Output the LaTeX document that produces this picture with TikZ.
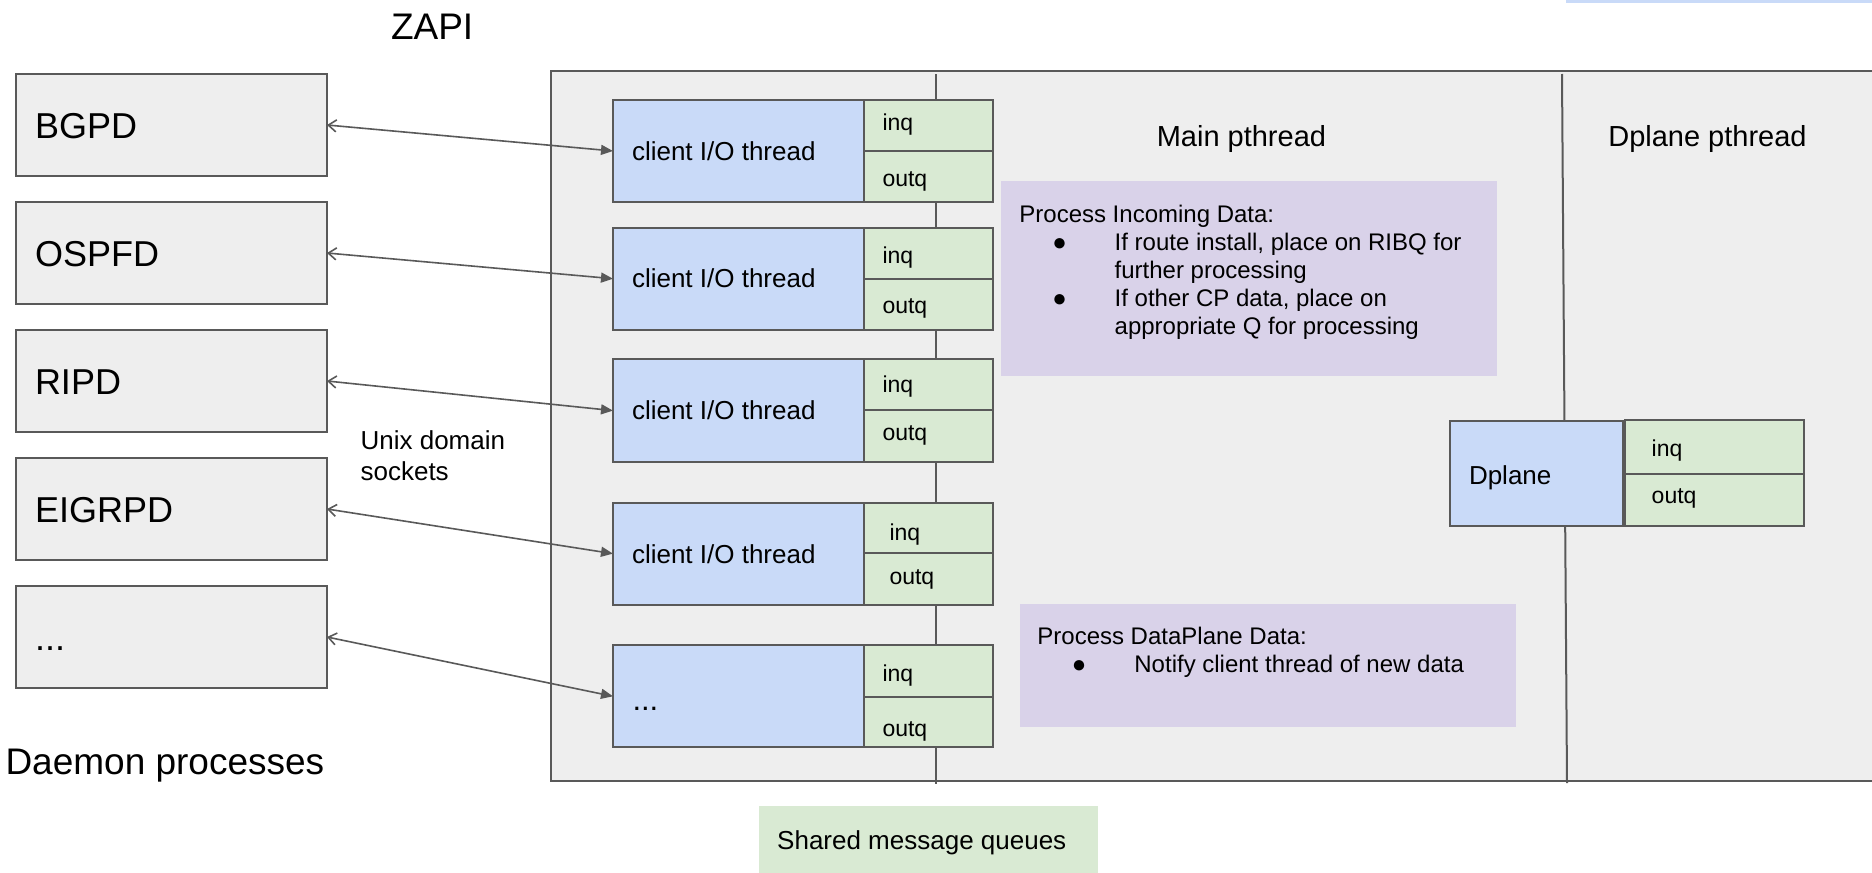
\documentclass[tikz,border=0pt]{standalone}
\usepackage{fontspec}
\setmainfont{Liberation Sans}
\usetikzlibrary{arrows.meta}
\definecolor{bord}{HTML}{595959}
\definecolor{gfill}{HTML}{EEEEEE}
\definecolor{bfill}{HTML}{C9DAF8}
\definecolor{qfill}{HTML}{D9EAD3}
\definecolor{pfill}{HTML}{D9D2E9}
\begin{document}
\begin{tikzpicture}[x=1pt,y=-1pt,
  box/.style={draw=bord, line width=2pt, anchor=north west, inner sep=0pt, outer sep=0pt},
  dbox/.style={box, fill=gfill, minimum width=311.2pt, minimum height=102pt},
  cbox/.style={box, fill=bfill, minimum width=251pt},
  qbox/.style={box, fill=qfill, minimum width=129pt},
  pbox/.style={anchor=north west, fill=pfill, inner sep=0pt, outer sep=0pt},
  txt/.style={anchor=base west, inner sep=0pt, outer sep=0pt, text=black},
  big/.style={txt, font=\fontsize{36}{40}\selectfont},
  mid/.style={txt, font=\fontsize{26}{30}\selectfont},
  qt/.style={txt, font=\fontsize{23}{27}\selectfont},
  ptx/.style={txt, font=\fontsize{24}{28}\selectfont},
  conn/.style={draw=bord, line width=1.6pt,
    {Straight Barb[length=8pt,width=12pt,line width=1.6pt]}-{Triangle[length=12pt,width=10pt]}},
  divl/.style={draw=bord, line width=2pt}
]
\useasboundingbox (0,0) rectangle (1872,873);

% top-right partial bar
\fill[bfill] (1566,0) rectangle (1872,2.5);

% container
\node[box, fill=gfill, minimum width=1340pt, minimum height=710pt] (zebra) at (551,71) {};

% vertical lines
\coordinate (qtop) at (935.5,74);
\coordinate (qbot) at (935.5,784);
\coordinate (dtop) at (1562,74);
\coordinate (dbot) at (1567,783);
\draw[divl] (qtop) -- (qbot);
\draw[divl] (dtop) -- (dbot);

% daemon boxes
\node[dbox] (bgpd) at (15.8,74) {};
\node[dbox] (ospfd) at (15.8,202) {};
\node[dbox] (ripd) at (15.8,330) {};
\node[dbox] (eigrpd) at (15.8,458) {};
\node[dbox] (more) at (15.8,586) {};
\node[big] (tbgpd) at (35,138.3) {BGPD};
\node[big] (tospfd) at (35,266.3) {OSPFD};
\node[big] (tripd) at (35,394.3) {RIPD};
\node[big] (teigrpd) at (35,522.3) {EIGRPD};
\node[big] (tmore) at (35,650.5) {...};

% client boxes
\node[cbox, minimum height=102pt] (c1) at (613,100) {};
\node[qbox, minimum height=50.7pt] (c1i) at (864,100) {};
\node[qbox, minimum height=51.3pt] (c1o) at (864,150.7) {};
\node[cbox, minimum height=102pt] (c2) at (613,227.7) {};
\node[qbox, minimum height=51.3pt] (c2i) at (864,227.7) {};
\node[qbox, minimum height=50.7pt] (c2o) at (864,279) {};
\node[cbox, minimum height=102.6pt] (c3) at (613,359.3) {};
\node[qbox, minimum height=50.7pt] (c3i) at (864,359.3) {};
\node[qbox, minimum height=51.9pt] (c3o) at (864,410) {};
\node[cbox, minimum height=101.7pt] (c4) at (613,502.8) {};
\node[qbox, minimum height=50.5pt] (c4i) at (864,502.8) {};
\node[qbox, minimum height=51.2pt] (c4o) at (864,553.3) {};
\node[cbox, minimum height=102pt] (c5) at (613,645.3) {};
\node[qbox, minimum height=51.4pt] (c5i) at (864,645.3) {};
\node[qbox, minimum height=50.6pt] (c5o) at (864,696.7) {};

\node[mid] (tc1) at (632,160) {client I/O thread};
\node[mid] (tc2) at (632,287.7) {client I/O thread};
\node[mid] (tc3) at (632,419.6) {client I/O thread};
\node[mid] (tc4) at (632,563.3) {client I/O thread};
\node[txt, font=\fontsize{31}{34}\selectfont] (tc5) at (632.5,710) {...};

\node[qt] (tc1i) at (882.5,130.7) {inq};
\node[qt] (tc1o) at (882.5,186.7) {outq};
\node[qt] (tc2i) at (882.5,263) {inq};
\node[qt] (tc2o) at (882.5,313) {outq};
\node[qt] (tc3i) at (882.5,392) {inq};
\node[qt] (tc3o) at (882.5,440) {outq};
\node[qt] (tc4i) at (889.5,540) {inq};
\node[qt] (tc4o) at (889.5,584) {outq};
\node[qt] (tc5i) at (882.5,681.7) {inq};
\node[qt] (tc5o) at (882.5,736) {outq};

% connectors
\draw[conn] (bgpd.east) -- (c1.west);
\draw[conn] (ospfd.east) -- (c2.west);
\draw[conn] (ripd.east) -- (c3.west);
\draw[conn] (eigrpd.east) -- (c4.west);
\draw[conn] (more.east) -- (c5.west);

% dplane
\node[box, fill=bfill, minimum width=172.7pt, minimum height=104.6pt] (dp) at (1450,421.4) {};
\node[qbox, minimum width=178.4pt, minimum height=53.2pt] (dpi) at (1625.3,420.4) {};
\node[qbox, minimum width=178.4pt, minimum height=52.4pt] (dpo) at (1625.3,473.6) {};
\node[mid] (tdp) at (1469,484) {Dplane};
\node[qt] (tdpi) at (1651.7,456.4) {inq};
\node[qt] (tdpo) at (1651.7,503.6) {outq};

% purple boxes
\node[pbox, minimum width=495.6pt, minimum height=194.7pt] (p1) at (1001,181) {};
\node[ptx] (p1a) at (1019.4,222.3) {Process Incoming Data:};
\node[ptx, anchor=base] (p1b1) at (1059.6,250.7) {●};
\node[ptx] (p1b) at (1114.7,250.7) {If route install, place on RIBQ for};
\node[ptx] (p1c) at (1114.7,278.3) {further processing};
\node[ptx, anchor=base] (p1b2) at (1059.6,306.7) {●};
\node[ptx] (p1d) at (1114.7,306.7) {If other CP data, place on};
\node[ptx] (p1e) at (1114.7,334) {appropriate Q for processing};

\node[pbox, minimum width=495.5pt, minimum height=122.7pt] (p2) at (1020,604) {};
\node[ptx] (p2a) at (1037.4,644.3) {Process DataPlane Data:};
\node[ptx, anchor=base] (p2b1) at (1079,672) {●};
\node[ptx] (p2b) at (1134.4,672) {Notify client thread of new data};

% titles
\node[txt, font=\fontsize{29}{33}\selectfont] (tmain) at (1156.8,146) {Main pthread};
\node[txt, font=\fontsize{29}{33}\selectfont] (tdpt) at (1608.3,146.4) {Dplane pthread};
\node[txt, font=\fontsize{37}{41}\selectfont] (tzapi) at (391,39.3) {ZAPI};
\node[mid] (tunix1) at (360.6,449.9) {Unix domain};
\node[mid] (tunix2) at (360.6,480.9) {sockets};
\node[txt, font=\fontsize{37}{41}\selectfont] (tdaemon) at (5.5,774) {Daemon processes};

% shared message queues legend
\node[box, draw=none, fill=qfill, minimum width=339.2pt, minimum height=70pt] (legend) at (758.8,806) {};
\node[mid] (tlegend) at (777.2,849.3) {Shared message queues};
\end{tikzpicture}
\end{document}
